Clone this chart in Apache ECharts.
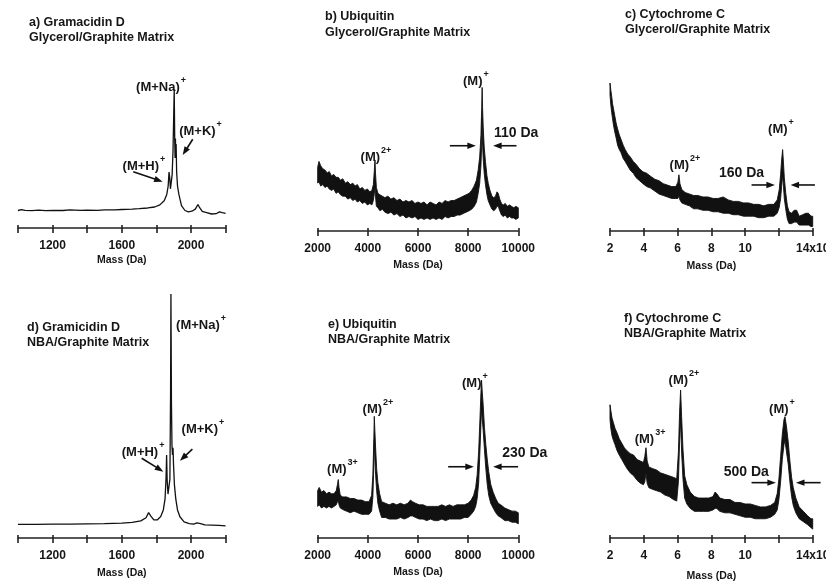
<!DOCTYPE html>
<html><head><meta charset="utf-8">
<script src="https://cdn.jsdelivr.net/npm/echarts@6/dist/echarts.min.js"></script>
<style>html,body{margin:0;padding:0;background:#fff}#c{width:826px;height:581px}</style>
</head><body><div id="c"></div><script>
// ---------- DATA ----------
// Panel titles
const titles = [
  'a) Gramacidin D\nGlycerol/Graphite Matrix',
  'b) Ubiquitin\nGlycerol/Graphite Matrix',
  'c) Cytochrome C\nGlycerol/Graphite Matrix',
  'd) Gramicidin D\nNBA/Graphite Matrix',
  'e) Ubiquitin\nNBA/Graphite Matrix',
  'f) Cytochrome C\nNBA/Graphite Matrix'
];
const axisName = 'Mass (Da)';
// tick labels
const gramTickLabels = ['1200', '1600', '2000'];
const ubqTickLabels = ['2000', '4000', '6000', '8000', '10000'];
const cytTickLabels = ['2', '4', '6', '8', '10', '', '14x10'];   // for 2,4,...,14

// Gramicidin spectra: [mass, intensity]
const gramGlycerol = [[1000,12.5],[1020,13.2],[1040,12.6],[1080,12.4],[1120,12.8],[1160,12.4],[1200,12.6],[1260,12.5],[1300,12.9],[1360,12.6],[1400,12.7],[1460,12.6],[1500,12.9],[1560,13.0],[1600,13.2],[1660,13.5],[1700,13.8],[1750,14.3],[1790,15.0],[1820,16.5],[1845,19.5],[1860,24],[1868,30],[1873,40],[1877,36],[1881,28],[1886,33],[1891,38],[1896,55],[1900,80],[1903,99],[1906,62],[1908,50],[1910,64],[1912,52],[1914,60],[1917,40],[1922,30],[1930,24],[1945,16],[1965,12.5],[1985,11.5],[2005,12],[2025,13.5],[2040,16.8],[2050,14.5],[2065,11.8],[2090,11],[2120,10],[2145,10.2],[2165,11.5],[2180,11],[2200,10.5]];
const gramNBA = [[1000,5.6],[1100,5.6],[1200,5.7],[1300,5.7],[1400,5.8],[1500,5.9],[1600,6.1],[1660,6.4],[1710,7.0],[1740,8.3],[1755,10.4],[1768,9.0],[1785,7.4],[1805,7.4],[1825,8.8],[1840,11.5],[1850,16],[1856,25],[1859,34],[1862,24],[1867,18],[1873,18.5],[1878,24],[1882,60],[1884,100],[1887,55],[1890,38],[1893,34],[1896,37],[1899,30],[1904,22],[1912,16],[1922,11.5],[1936,8.7],[1960,6.6],[1990,5.9],[2015,5.7],[2035,6.2],[2043,6.8],[2055,5.9],[2080,5.4],[2120,5.3],[2160,5.2],[2200,5.0]];

// Noisy spectra: [mass, upper envelope, lower envelope]
const ubqGlycerol = [[2000,44,33],[2050,48,34],[2120,45,31],[2200,43,32],[2290,42,30],[2380,40,31],[2460,41,29],[2550,38,28],[2640,39,29],[2730,37,26],[2820,37,27],[2910,35,25],[3000,36,24],[3100,33,24],[3200,34,22],[3300,32,23],[3400,33,21],[3490,31,22],[3580,32,20],[3680,29,21],[3780,30,19],[3880,28,20],[3980,29,18],[4080,27,19],[4160,28,18],[4220,32,21],[4260,42,26],[4285,49,30],[4305,40,24],[4340,30,17],[4400,26,16],[4480,25,14],[4580,24,15],[4680,23,13],[4800,24,12],[4920,22,13],[5040,23,11],[5160,21,12],[5280,22,10],[5400,20,11],[5520,21,9],[5640,20,10],[5760,21,9],[5880,19,10],[6000,20,8],[6120,19,9],[6240,20,8],[6360,18,9],[6480,20,8],[6600,19,9],[6720,18,8],[6840,20,9],[6960,19,8],[7080,21,10],[7200,20,9],[7320,21,10],[7440,21,10],[7560,22,11],[7680,23,11],[7800,24,12],[7920,25,13],[8040,26,14],[8140,28,15],[8240,31,17],[8330,35,20],[8400,42,26],[8460,51,33],[8510,66,45],[8540,85,60],[8558,99,78],[8575,85,60],[8600,72,50],[8640,58,40],[8690,48,32],[8750,38,25],[8800,33,21],[8870,28,18],[8950,24,15],[9020,23,14],[9090,24,15],[9150,27,17],[9200,26,17],[9260,22,14],[9330,19,11],[9400,18,10],[9480,19,11],[9560,17,9],[9650,18,10],[9730,17,9],[9820,16,9],[9900,17,8],[10000,16,9]];
const cytGlycerol = [[2.00,100,92],[2.05,95,85],[2.10,91,80],[2.15,86,76],[2.20,83,72],[2.28,78,67],[2.36,73,63],[2.45,69,58],[2.55,65,55],[2.65,62,53],[2.78,58,49],[2.90,55,47],[3.05,52,44],[3.20,50,41],[3.38,47,39],[3.55,45,36],[3.75,42,34],[3.95,40,32],[4.17,39,30],[4.40,37,29],[4.65,35,27],[4.90,34,25],[5.15,32,24],[5.40,31,23],[5.65,30,22],[5.90,30,22],[6.02,33,22],[6.08,38,24],[6.14,32,21],[6.25,28,19],[6.45,26,18],[6.70,25,17],[6.95,24,15],[7.20,24,15],[7.50,23,14],[7.80,23,14],[8.10,22,13],[8.40,22,13],[8.70,23,12],[9.00,21,12],[9.30,20,11],[9.60,20,11],[9.90,19,10],[10.20,19,10],[10.50,18,10],[10.80,18,9],[11.10,17,9],[11.40,18,10],[11.70,18,10],[11.90,21,12],[12.02,28,16],[12.10,38,22],[12.16,48,30],[12.22,55,38],[12.27,46,30],[12.32,36,22],[12.40,26,15],[12.50,17,8],[12.60,13,5],[12.75,12,5],[12.90,14,6],[13.05,14,6],[13.20,10,4],[13.40,11,4],[13.60,12,4],[13.75,12,4],[13.90,10,3],[14.00,10,3]];
const ubqNBA = [[2000,30,20],[2060,32,21],[2150,29,19],[2250,30,20],[2350,28,19],[2450,29,20],[2550,28,19],[2650,28,20],[2740,30,21],[2790,34,23],[2820,37,24],[2850,32,21],[2900,27,19],[3000,26,18],[3150,26,17],[3300,25,16],[3450,25,17],[3600,24,16],[3750,24,15],[3900,23,15],[4050,23,15],[4150,27,17],[4200,40,26],[4235,60,44],[4257,77,62],[4280,68,50],[4310,57,40],[4350,44,30],[4400,35,22],[4470,28,17],[4550,23,13],[4700,22,13],[4850,21,12],[5000,22,12],[5150,21,12],[5300,22,13],[5450,21,12],[5600,22,13],[5700,24,14],[5780,23,14],[5900,22,13],[6050,21,12],[6200,21,12],[6350,20,11],[6500,20,12],[6650,20,11],[6800,20,11],[6950,21,12],[7100,20,11],[7250,21,12],[7400,20,12],[7550,21,12],[7700,21,12],[7850,21,13],[8000,22,13],[8120,24,15],[8220,27,17],[8300,32,20],[8360,40,25],[8420,55,35],[8470,75,55],[8510,92,72],[8534,100,82],[8560,93,76],[8600,84,68],[8650,70,56],[8700,60,45],[8760,50,34],[8820,42,27],[8900,34,22],[8997,29,19],[9100,25,16],[9200,22,14],[9300,21,13],[9460,19,11],[9600,18,11],[9750,17,10],[9880,17,10],[10000,16,9]];
const cytNBA = [[2.00,90,80],[2.05,86,74],[2.12,81,69],[2.20,78,66],[2.30,74,63],[2.42,71,59],[2.55,67,56],[2.70,64,53],[2.85,61,50],[3.00,59,47],[3.20,57,44],[3.40,56,42],[3.60,53,39],[3.80,52,37],[3.98,51,36],[4.06,55,38],[4.13,61,44],[4.20,52,37],[4.30,48,34],[4.50,47,33],[4.75,46,32],[5.00,44,31],[5.25,43,29],[5.50,42,28],[5.75,41,26],[5.95,40,25],[6.05,58,38],[6.12,85,65],[6.18,100,80],[6.24,82,58],[6.32,60,40],[6.42,42,27],[6.55,36,23],[6.75,31,20],[7.00,28,18],[7.25,27,18],[7.55,27,18],[7.85,27,18],[8.10,28,19],[8.22,31,20],[8.32,30,20],[8.50,27,18],[8.80,26,17],[9.10,26,17],[9.40,24,16],[9.70,24,15],[10.00,23,14],[10.30,23,14],[10.60,22,13],[10.90,21,13],[11.20,21,13],[11.50,22,14],[11.75,24,16],[11.90,30,19],[12.00,40,26],[12.10,55,38],[12.20,70,53],[12.30,80,63],[12.36,82,66],[12.45,75,58],[12.55,65,50],[12.65,52,38],[12.75,41,28],[12.85,34,22],[13.00,27,17],[13.20,21,13],[13.45,18,11],[13.70,15,9],[13.90,13,7],[14.00,13,6]];

// Peak annotations (text)
const notesA = [['(M+Na)','+'],['(M+K)','+'],['(M+H)','+']];
const notesB = [['(M)','+'],['(M)','2+'],['110 Da','']];
const notesC = [['(M)','+'],['(M)','2+'],['160 Da','']];
const notesD = [['(M+Na)','+'],['(M+K)','+'],['(M+H)','+']];
const notesE = [['(M)','3+'],['(M)','2+'],['(M)','+'],['230 Da','']];
const notesF = [['(M)','3+'],['(M)','2+'],['(M)','+'],['500 Da','']];

// ---------- LAYOUT (annotation positions, in data units of each panel) ----------
const notePos = {
  a: [[1827,102],[2055,71],[1728,46]],
  b: [[8307,104.6],[4323,52.4],[9912,67.4]],
  c: [[12.12,70.5],[6.44,45.7],[9.79,39]],
  d: [[2058,88],[2069,45.6],[1723,36.1]],
  e: [[2988,45.1],[4402,83.1],[8267,99.6],[10259,53.6]],
  f: [[4.37,68.4],[6.38,107.9],[12.18,88.7],[10.07,44.8]]
};
const arrowPos = {
  a: [[1666,40.2,1836,33.1],[2010,63.4,1952,52.1]],
  b: [[7271,58.8,8307,58.8],[9928,58.8,8996,58.8]],
  c: [[10.38,31.1,11.76,31.1],[14.13,31.1,12.69,31.1]],
  d: [[1715,32.7,1840,27.2],[2008,36.4,1936,31.7]],
  e: [[7203,45.1,8227,45.1],[9992,45.1,8996,45.1]],
  f: [[10.38,37.4,11.82,37.4],[14.47,37.4,13.01,37.4]]
};

const FONT = '"Liberation Sans", Arial, Helvetica, sans-serif';
const TXT = '#161616';
const INK = '#111';

const gramAxis = {min:1000, max:2200, interval:200, fmt: v => gramTickLabels.includes(String(v)) ? String(v) : ''};
const ubqAxis = {min:2000, max:10000, interval:2000, fmt: v => ubqTickLabels.includes(String(v)) ? String(v) : ''};
const cytAxis = {min:2, max:14, interval:2, fmt: v => cytTickLabels[Math.round((v - 2) / 2)] || ''};

const panels = [
  {key:'a', grid:{left:18, top:53, width:207.6, height:175}, ax:gramAxis, line:gramGlycerol, notes:notesA, title:{left:29, top:15.5, lh:15}, nameGap:27},
  {key:'b', grid:{left:317.7, top:49.75, width:200.6, height:181.25}, ax:ubqAxis, band:ubqGlycerol, notes:notesB, title:{left:325, top:8.5, lh:16}, nameGap:29},
  {key:'c', grid:{left:610, top:46, width:202.7, height:185}, ax:cytAxis, band:cytGlycerol, notes:notesC, title:{left:625, top:7.5, lh:15}, nameGap:30},
  {key:'d', grid:{left:18, top:233, width:207.6, height:305}, ax:gramAxis, line:gramNBA, notes:notesD, title:{left:27, top:320, lh:15}, nameGap:29.5},
  {key:'e', grid:{left:317.7, top:340.5, width:200.6, height:197.5}, ax:ubqAxis, band:ubqNBA, notes:notesE, title:{left:328, top:316.5, lh:15.5}, nameGap:28.5},
  {key:'f', grid:{left:610, top:353, width:202.7, height:185}, ax:cytAxis, band:cytNBA, notes:notesF, title:{left:624, top:311, lh:15}, nameGap:33}
];

function bandRenderer(band) {
  return function (params, api) {
    const top = band.map(r => api.coord([r[0], r[1]]));
    const bot = band.slice().reverse().map(r => api.coord([r[0], r[2]]));
    return {type: 'polygon', shape: {points: top.concat(bot)},
      style: {fill: INK, stroke: INK, lineWidth: 0.9, lineJoin: 'round'}};
  };
}
function arrowRenderer(params, api) {
  const p1 = api.coord([api.value(0), api.value(1)]);
  const p2 = api.coord([api.value(2), api.value(3)]);
  const dx = p2[0] - p1[0], dy = p2[1] - p1[1];
  const L = Math.sqrt(dx * dx + dy * dy) || 1;
  const ux = dx / L, uy = dy / L, hl = 8.5, hw = 3.2;
  const bx = p2[0] - ux * hl, by = p2[1] - uy * hl;
  return {type: 'group', children: [
    {type: 'line', shape: {x1: p1[0], y1: p1[1], x2: bx + ux, y2: by + uy}, style: {stroke: INK, lineWidth: 1.6}},
    {type: 'polygon', shape: {points: [[p2[0], p2[1]], [bx - uy * hw, by + ux * hw], [bx + uy * hw, by - ux * hw]]},
      style: {fill: INK}}
  ]};
}

const option = {animation:false, backgroundColor:'#fff', title:[], grid:[], xAxis:[], yAxis:[], series:[]};

panels.forEach((p, i) => {
  option.title.push({
    text: titles[i], left: p.title.left, top: p.title.top, padding: 0,
    textStyle: {fontFamily: FONT, fontSize: 12.5, fontWeight: 'bold', color: TXT, lineHeight: p.title.lh}
  });
  option.grid.push(Object.assign({outerBoundsMode:'none', containLabel:false}, p.grid));
  option.xAxis.push({
    gridIndex: i, type: 'value', position: 'bottom', min: p.ax.min, max: p.ax.max, interval: p.ax.interval,
    name: axisName, nameLocation: 'middle', nameGap: p.nameGap,
    nameTextStyle: {fontFamily: FONT, fontSize: 10.5, fontWeight: 'bold', color: TXT},
    axisLine: {show: true, lineStyle: {color: '#222', width: 1.6}},
    axisTick: {show: true, inside: false, length: 5, lineStyle: {color: '#222', width: 1.6}},
    axisLabel: {show: true, margin: 12, fontFamily: FONT, fontSize: 12, fontWeight: 'bold', color: TXT,
      showMinLabel: true, showMaxLabel: true, formatter: p.ax.fmt},
    splitLine: {show: false}
  });
  option.xAxis.push({
    gridIndex: i, type: 'value', position: 'bottom', min: p.ax.min, max: p.ax.max, interval: p.ax.interval,
    axisLine: {show: false}, axisTick: {show: true, inside: true, length: 3, lineStyle: {color: '#222', width: 1.6}},
    axisLabel: {show: false}, splitLine: {show: false}
  });
  option.yAxis.push({gridIndex: i, type: 'value', min: 0, max: 125, show: false, splitLine: {show: false}});
  const xi = 2 * i;
  if (p.line) {
    option.series.push({
      type: 'line', xAxisIndex: xi, yAxisIndex: i, data: p.line, showSymbol: false, symbol: 'none',
      lineStyle: {color: INK, width: 1.3}, silent: true, clip: false
    });
  } else {
    option.series.push({
      type: 'custom', xAxisIndex: xi, yAxisIndex: i, silent: true, clip: false,
      data: [[p.band[0][0], p.band[0][2]]],
      renderItem: bandRenderer(p.band)
    });
  }
  // arrows
  option.series.push({
    type: 'custom', xAxisIndex: xi, yAxisIndex: i, silent: true, clip: false,
    encode: {x: [0, 2], y: [1, 3]},
    data: arrowPos[p.key],
    renderItem: arrowRenderer
  });
  // peak labels
  const pos = notePos[p.key];
  option.series.push({
    type: 'scatter', xAxisIndex: xi, yAxisIndex: i, symbolSize: 1, clip: false, silent: true,
    itemStyle: {color: 'rgba(0,0,0,0)', opacity: 1},
    data: p.notes.map((n, k) => ({
      value: pos[k],
      label: {show: true, position: 'inside',
        formatter: n[1] ? '{m|' + n[0] + '}{s|' + n[1] + '}' : '{t|' + n[0] + '}'}
    })),
    label: {show: true, position: 'inside', rich: {
      m: {fontFamily: FONT, fontSize: 13, fontWeight: 'bold', color: TXT, lineHeight: 18, verticalAlign: 'bottom'},
      s: {fontFamily: FONT, fontSize: 9, fontWeight: 'bold', color: TXT, lineHeight: 18, verticalAlign: 'top', padding: [0, 0, 0, 1]},
      t: {fontFamily: FONT, fontSize: 14, fontWeight: 'bold', color: TXT}
    }}
  });
});

const chart = echarts.init(document.getElementById('c'), null, {renderer: 'canvas'});
chart.setOption(option);
</script></body></html>
